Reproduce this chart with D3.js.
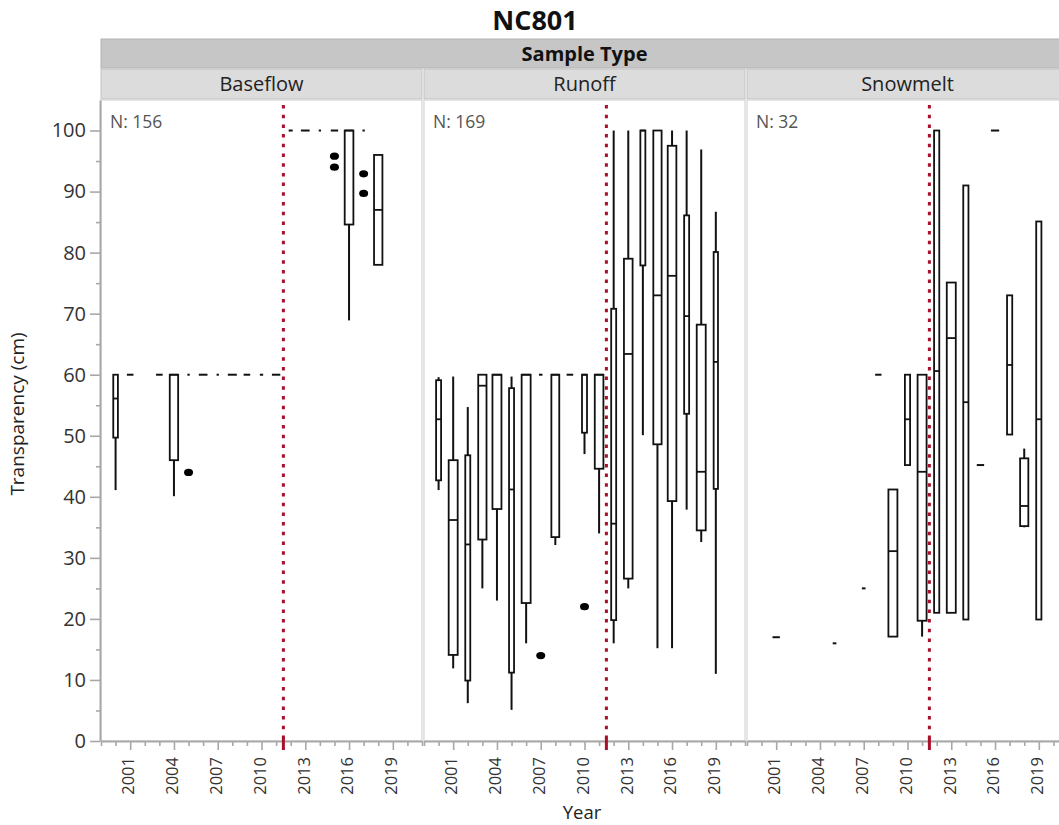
<!DOCTYPE html>
<html><head><meta charset="utf-8">
<script src="https://cdn.jsdelivr.net/npm/d3@7/dist/d3.min.js"></script>
<style>
body{margin:0;background:#fff}
text{font-family:"Open Sans","Noto Sans","DejaVu Sans",sans-serif}
</style>
</head><body>
<svg id="c" width="1059" height="825"></svg>
<script>
// ---------- data ----------
const panels = ["Baseflow", "Runoff", "Snowmelt"];
const panelN = [156, 169, 32];
const yMajorTicks = [0, 10, 20, 30, 40, 50, 60, 70, 80, 90, 100];
const yMinorTicks = [5, 15, 25, 35, 45, 55, 65, 75, 85, 95];
const yearTicks = [2001, 2004, 2007, 2010, 2013, 2016, 2019];
const yearMinorTicks = [1999,2000,2002,2003,2005,2006,2008,2009,2011,2012,2014,2015,2017,2018,2020,2021];
const refYear = 2011.5;

// box plots: panel index, year, min, q1, median, q3, max, count
const boxPanel = [0,0,0,0,0,0,0,0,0,0,0,0,0,0,0,0,0,0,
                  1,1,1,1,1,1,1,1,1,1,1,1,1,1,1,1,1,1,1,1,
                  2,2,2,2,2,2,2,2,2,2,2,2,2,2,2];
const boxYear  = [2000,2001,2003,2004,2005,2006,2007,2008,2009,2010,2011,2012,2013,2014,2015,2016,2017,2018,
                  2000,2001,2002,2003,2004,2005,2006,2007,2008,2009,2010,2011,2012,2013,2014,2015,2016,2017,2018,2019,
                  2001,2005,2007,2008,2009,2010,2011,2012,2013,2014,2015,2016,2017,2018,2019];
const boxMin   = [41.1,60,60,40.1,60,60,60,60,60,60,60,100,100,100,100,68.9,100,78,
                  41.1,11.9,6.2,25,23,5.1,16,60,32.1,60,47,34,16,25,50.1,15.2,15.2,37.9,32.6,11,
                  17,16,25,60,17.1,45.2,17.1,21,21,19.9,45.2,100,50.2,35,19.9];
const boxQ1    = [49.7,60,60,46,60,60,60,60,60,60,60,100,100,100,100,84.6,100,78,
                  42.7,14.1,9.9,33,38,11.2,22.6,60,33.4,60,50.5,44.6,19.8,26.6,77.9,48.6,39.3,53.6,34.5,41.3,
                  17,16,25,60,17.1,45.2,19.7,21,21,19.9,45.2,100,50.2,35.2,19.9];
const boxMed   = [56.1,60,60,60,60,60,60,60,60,60,60,100,100,100,100,100,100,87,
                  52.7,36.2,32.2,58.2,60,41.2,60,60,60,60,60,60,35.6,63.4,100,73,76.2,69.6,44.1,62.1,
                  17,16,25,60,31.1,52.7,44.1,60.6,66,55.5,45.2,100,61.6,38.5,52.7];
const boxQ3    = [60,60,60,60,60,60,60,60,60,60,60,100,100,100,100,100,100,96,
                  59.1,46,46.8,60,60,57.8,60,60,60,60,60,60,70.8,79,100,100,97.5,86.1,68.2,80.1,
                  17,16,25,60,41.2,60,60,100,75.1,91,45.2,100,73,46.3,85.1];
const boxMax   = [60,60,60,60,60,60,60,60,60,60,60,100,100,100,100,100,100,96,
                  59.6,59.7,54.7,60,60,59.7,60,60,60,60,60,60,100,100,100,100,100,100,96.9,86.7,
                  17,16,25,60,41.2,60,60,100,75.1,91,45.2,100,73,47.9,85.1];
const boxCount = [4,8,8,13,1,14,1,15,8,2,13,3,14,1,10,14,1,13,
                  4,13,4,11,13,4,13,2,10,7,4,12,4,12,4,11,12,4,13,3,
                  4,1,1,3,6,2,6,2,6,2,4,5,2,5,2];

// outliers: panel index, year, value
const outPanel = [0,0,0,0,0,1,1];
const outYear  = [2005,2015,2015,2017,2017,2007,2010];
const outValue = [44,95.8,94,92.9,89.7,14,22];

// ---------- layout ----------
const svg = d3.select("#c");
const plotTop = 100, plotBottom = 741, panelW = 321;
const panelX = [101, 424, 747];
const axisGrey = "#a8a8a8";
const refRed = "#a8102c";
const fontF = '"Open Sans","Noto Sans",sans-serif';

const y = d3.scaleLinear().domain([0, 105]).range([plotBottom, plotTop]);
const xs = panelX.map(px => d3.scaleLinear().domain([1999, 2021]).range([px, px + panelW]));

// title
svg.append("text").attr("x", 535).attr("y", 30).attr("text-anchor", "middle")
  .attr("font-size", 27).attr("font-weight", "bold").attr("fill", "#111").text("NC801");

// header strip
svg.append("rect").attr("x", 101).attr("y", 39).attr("width", 3 * panelW + 4).attr("height", 29)
  .attr("fill", "#c6c6c6").attr("stroke", "#b4b4b4");
svg.append("text").attr("x", 101 + (3 * panelW + 4) / 2).attr("y", 61).attr("text-anchor", "middle")
  .attr("font-size", 20).attr("font-weight", "bold").attr("fill", "#111").text("Sample Type");

panels.forEach((p, i) => {
  svg.append("rect").attr("x", panelX[i]).attr("y", 69).attr("width", panelW).attr("height", 30)
    .attr("fill", "#dcdcdc").attr("stroke", "#c2c2c2");
  svg.append("text").attr("x", panelX[i] + panelW / 2).attr("y", 91).attr("text-anchor", "middle")
    .attr("font-size", 20).attr("fill", "#222").text(p);
  // panel frame
  svg.append("rect").attr("x", panelX[i]).attr("y", plotTop).attr("width", panelW)
    .attr("height", plotBottom - plotTop).attr("fill", "#fff").attr("stroke", "#d6d6d6").attr("stroke-width", 1.2);
  svg.append("text").attr("x", panelX[i] + 9).attr("y", 128).attr("font-size", 17.5)
    .attr("fill", "#555").text("N: " + panelN[i]);
});

// y axis
const yAxisG = svg.append("g").attr("transform", "translate(100,0)");
yAxisG.call(d3.axisLeft(y).tickValues(yMajorTicks).tickSize(10).tickPadding(4).tickSizeOuter(0));
yAxisG.append("g").call(d3.axisLeft(y).tickValues(yMinorTicks).tickSize(4).tickFormat(""));
yAxisG.selectAll("g g .domain").remove();
yAxisG.selectAll(".domain").attr("stroke", axisGrey).attr("stroke-width", 2);
yAxisG.selectAll(".tick line").attr("stroke", axisGrey).attr("stroke-width", 1.6);
yAxisG.selectAll(".tick text").attr("font-size", 20).attr("fill", "#333").attr("font-family", fontF);

// x axes
xs.forEach((x, i) => {
  const g = svg.append("g").attr("transform", `translate(0,${plotBottom})`);
  g.call(d3.axisBottom(x).tickValues(yearTicks).tickSize(9).tickSizeOuter(0).tickFormat(d3.format("d")));
  g.append("g").call(d3.axisBottom(x).tickValues(yearMinorTicks).tickSize(5).tickFormat(""));
  g.selectAll("g g .domain").remove();
  g.selectAll(".domain").attr("stroke", axisGrey).attr("stroke-width", 2);
  g.selectAll(".tick line").attr("stroke", axisGrey).attr("stroke-width", 1.6);
  g.selectAll(".tick text").attr("font-size", 16.5).attr("fill", "#333").attr("font-family", fontF)
    .attr("transform", "rotate(-90)").attr("text-anchor", "end")
    .attr("x", -16).attr("y", -2).attr("dy", "0.35em");
});

// reference lines
xs.forEach(x => {
  svg.append("line").attr("x1", x(refYear)).attr("x2", x(refYear))
    .attr("y1", plotTop + 5).attr("y2", plotBottom)
    .attr("stroke", refRed).attr("stroke-width", 3).attr("stroke-dasharray", "3.5,6.2");
  svg.append("line").attr("x1", x(refYear)).attr("x2", x(refYear))
    .attr("y1", plotBottom - 3).attr("y2", plotBottom + 9)
    .attr("stroke", refRed).attr("stroke-width", 3);
});

// boxes
const boxes = boxYear.map((yr, k) => ({
  p: boxPanel[k], year: yr, min: boxMin[k], q1: boxQ1[k], med: boxMed[k],
  q3: boxQ3[k], max: boxMax[k], n: boxCount[k]
}));
const wScales = panels.map((p, i) => d3.scaleSqrt()
  .domain([0, d3.max(boxes.filter(b => b.p === i), b => b.n)]).range([0, 9]));

const bg = svg.append("g");
boxes.forEach(b => {
  const cx = xs[b.p](b.year);
  const w = wScales[b.p](b.n);
  const g = bg.append("g");
  if (b.q3 === b.q1) {
    g.append("line").attr("x1", cx - w / 2).attr("x2", cx + w / 2)
      .attr("y1", y(b.q1)).attr("y2", y(b.q1)).attr("stroke", "#111").attr("stroke-width", 2);
    return;
  }
  if (b.max > b.q3) g.append("line").attr("x1", cx).attr("x2", cx).attr("y1", y(b.max)).attr("y2", y(b.q3))
    .attr("stroke", "#111").attr("stroke-width", 2);
  if (b.min < b.q1) g.append("line").attr("x1", cx).attr("x2", cx).attr("y1", y(b.q1)).attr("y2", y(b.min))
    .attr("stroke", "#111").attr("stroke-width", 2);
  g.append("rect").attr("x", cx - w / 2).attr("y", y(b.q3)).attr("width", w)
    .attr("height", y(b.q1) - y(b.q3)).attr("fill", "#fff").attr("stroke", "#111").attr("stroke-width", 1.8);
  g.append("line").attr("x1", cx - w / 2).attr("x2", cx + w / 2)
    .attr("y1", y(b.med)).attr("y2", y(b.med)).attr("stroke", "#111").attr("stroke-width", 1.8);
});

// outliers
outValue.forEach((v, k) => {
  svg.append("ellipse").attr("cx", xs[outPanel[k]](outYear[k])).attr("cy", y(v))
    .attr("rx", 4.5).attr("ry", 3.6).attr("fill", "#000");
});

// axis titles
svg.append("text").attr("transform", "translate(24,414) rotate(-90)").attr("text-anchor", "middle")
  .attr("font-size", 19).attr("fill", "#222").text("Transparency (cm)");
svg.append("text").attr("x", 582).attr("y", 819).attr("text-anchor", "middle")
  .attr("font-size", 18.5).attr("fill", "#222").text("Year");
</script>
</body></html>
